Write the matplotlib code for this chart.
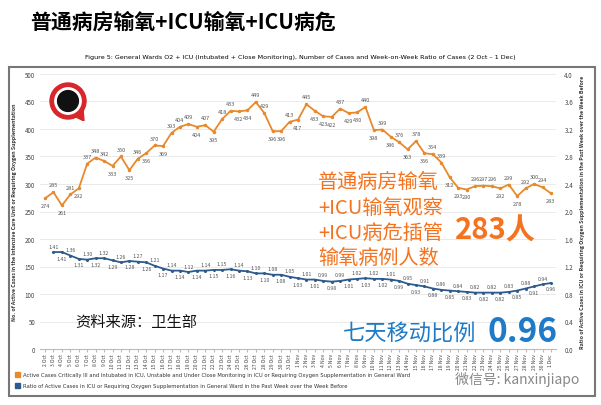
import numpy as np
import matplotlib.pyplot as plt
from matplotlib.patches import Rectangle, Circle, Polygon

plt.rcParams['font.family'] = ['Noto Sans CJK SC', 'DejaVu Sans']

# dates 2 Oct - 1 Dec
dates = [f"{d} Oct" for d in range(2, 32)] + [f"{d} Nov" for d in range(1, 31)] + ["1 Dec"]

cases = [274, 285, 261, 281, 292, 337, 348, 342, 333, 350, 325, 346, 356, 370, 369,
         393, 404, 409, 404, 407, 395, 418, 433, 432, 434, 449, 429, 396, 396, 413,
         417, 445, 433, 423, 422, 437, 429, 430, 440, 398, 399, 386, 376, 363, 378,
         356, 354, 339, 312, 293, 290, 296, 297, 296, 292, 299, 278, 292, 300, 294, 283]

# ratio series starts one day later
ratio = [1.41, 1.41, 1.36, 1.31, 1.30, 1.32, 1.32, 1.29, 1.26, 1.28, 1.27, 1.26, 1.21,
         1.17, 1.14, 1.14, 1.12, 1.14, 1.14, 1.15, 1.15, 1.16, 1.14, 1.13, 1.10, 1.10,
         1.08, 1.08, 1.05, 1.03, 1.01, 1.01, 0.99, 0.98, 0.99, 1.01, 1.02, 1.03, 1.02,
         1.02, 1.01, 0.99, 0.95, 0.93, 0.91, 0.88, 0.86, 0.85, 0.84, 0.83, 0.82, 0.82,
         0.82, 0.82, 0.83, 0.85, 0.88, 0.91, 0.94, 0.96]

orange = '#E8892B'
blue = '#2E5B8C'

fig = plt.figure(figsize=(6.01, 4.06), dpi=100)
W, H = 601, 406

def box(x0, y0, x1, y1):
    return [x0 / W, 1 - y1 / H, (x1 - x0) / W, (y1 - y0) / H]

# outer frame
fig.add_artist(Rectangle((9 / W, 1 - 397 / H), 586 / W, 329 / H, transform=fig.transFigure,
                         fill=False, edgecolor='#777777', lw=1.5))

fig.text(30 / W, 1 - 22 / H, "普通病房输氧+ICU输氧+ICU病危", fontsize=15, fontweight='bold',
         va='center', ha='left')
fig.text(300 / W, 1 - 57 / H,
         "Figure 5: General Wards O2 + ICU (Intubated + Close Monitoring), Number of Cases and Week-on-Week Ratio of Cases (2 Oct \u2013 1 Dec)",
         fontsize=4.6, ha='center', va='center', family=['DejaVu Sans'])

ax = fig.add_axes(box(40, 75, 556, 350))
x = np.arange(len(cases))
ax.plot(x, cases, color=orange, lw=1.3, marker='o', ms=1.5)
ax.set_ylim(0, 500)
ax.set_yticks(range(0, 501, 50))
ax.set_xlim(-0.6, len(cases) - 0.4)
ax.grid(axis='y', color='#e6e6e6', lw=0.6)
ax.set_axisbelow(True)
for s in ['top', 'right', 'left']:
    ax.spines[s].set_visible(False)
ax.spines['bottom'].set_color('#bbbbbb')
ax.tick_params(axis='y', labelsize=4.5, length=0, colors='#444444')
ax.set_xticks(x)
ax.set_xticklabels(dates, rotation=90, fontsize=3.6, color='#444444')
ax.tick_params(axis='x', length=2, color='#bbbbbb', pad=1)
ax.set_ylabel("No. of Active Cases in the Intensive Care Unit or Requiring Oxygen Supplementation",
              fontsize=3.8, fontweight='bold', labelpad=6, color='#333333')

for i, v in enumerate(cases):
    prev = cases[i - 1] if i > 0 else v
    nxt = cases[i + 1] if i < len(cases) - 1 else v
    above = v >= (prev + nxt) / 2
    ax.annotate(str(v), (i, v), xytext=(0, 3.5 if above else -3.5), textcoords='offset points',
                ha='center', va='bottom' if above else 'top', fontsize=4, color='#555555')

ax2 = ax.twinx()
xr = np.arange(1, len(ratio) + 1)
ax2.plot(xr, ratio, color=blue, lw=1.3, marker='o', ms=1.2)
ax2.set_ylim(0, 4.0)
ax2.set_yticks(np.arange(0, 4.01, 0.4))
ax2.set_yticklabels([f"{t:.1f}" for t in np.arange(0, 4.01, 0.4)])
for s in ['top', 'right', 'left', 'bottom']:
    ax2.spines[s].set_visible(False)
ax2.tick_params(axis='y', labelsize=4.5, length=0, colors='#444444', pad=6)
ax2.set_ylabel("Ratio of Active Cases in ICU or Requiring Oxygen Supplementation in the Past Week over the Week Before",
               fontsize=3.8, fontweight='bold', labelpad=5, color='#333333')
for i, v in enumerate(ratio):
    above = i % 2 == 0
    ax2.annotate(f"{v:.2f}", (xr[i], v), xytext=(0, 2.5 if above else -2.5), textcoords='offset points',
                 ha='center', va='bottom' if above else 'top', fontsize=3.8, color='#555555')

# overlaid annotations
txt_orange = '#F5731E'
for k, line in enumerate(["普通病房输氧", "+ICU输氧观察", "+ICU病危插管", "输氧病例人数"]):
    fig.text(318 / W, 1 - (183 + k * 25) / H, line, fontsize=14.5, color=txt_orange, va='center', ha='left')
fig.text(455 / W, 1 - 230 / H, "283人", fontsize=21, fontweight='bold', color=txt_orange,
         va='center', ha='left')
fig.text(75 / W, 1 - 323 / H, "资料来源：卫生部", fontsize=11, color='#111111', va='center', ha='left')
fig.text(343 / W, 1 - 334 / H, "七天移动比例", fontsize=16, color='#1F7BC8', va='center', ha='left')
fig.text(488 / W, 1 - 333 / H, "0.96", fontsize=24, fontweight='bold', color='#1F7BC8',
         va='center', ha='left')

# logo
ax_logo = fig.add_axes(box(48, 82, 88, 122))
ax_logo.set_xlim(-1, 1)
ax_logo.set_ylim(-1, 1)
ax_logo.set_aspect('equal')
ax_logo.axis('off')
ax_logo.add_patch(Circle((0, 0), 0.9, color='#D8262B'))
ax_logo.add_patch(Circle((0, 0), 0.66, color='white'))
ax_logo.add_patch(Circle((0, 0), 0.52, color='#111111'))
ax_logo.add_patch(Polygon([(0.3, -0.75), (0.8, -1.0), (0.75, -0.4)], color='#D8262B'))

# legend
fig.add_artist(Rectangle((15 / W, 1 - 378 / H), 5 / W, 5 / H, transform=fig.transFigure, color=orange))
fig.text(23 / W, 1 - 375.5 / H,
         "Active Cases Critically Ill and Intubated in ICU, Unstable and Under Close Monitoring in ICU or Requiring Oxygen Supplementation in General Ward",
         fontsize=3.8, va='center', ha='left', color='#333333', family=['DejaVu Sans'])
fig.add_artist(Rectangle((15 / W, 1 - 389 / H), 5 / W, 5 / H, transform=fig.transFigure, color=blue))
fig.text(23 / W, 1 - 386.5 / H,
         "Ratio of Active Cases in ICU or Requiring Oxygen Supplementation in General Ward in the Past Week over the Week Before",
         fontsize=3.8, va='center', ha='left', color='#333333', family=['DejaVu Sans'])

# watermark
fig.text(455 / W, 1 - 380 / H, "微信号: kanxinjiapo", fontsize=10, color='#888888', va='center', ha='left')

fig.savefig('out.png', dpi=100)
